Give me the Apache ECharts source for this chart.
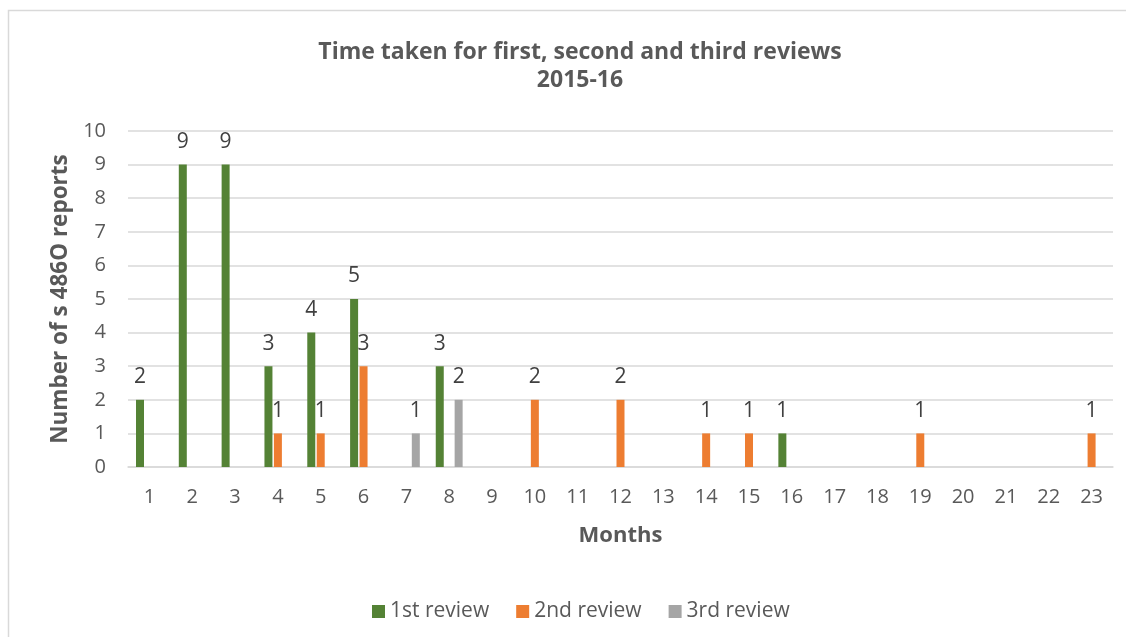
<!DOCTYPE html>
<html>
<head>
<meta charset="utf-8">
<script src="https://cdn.jsdelivr.net/npm/echarts@6/dist/echarts.min.js"></script>
<style>
  html, body { margin: 0; padding: 0; background: #fff; }
  #chart { width: 1126px; height: 637px; }
</style>
</head>
<body>
<div id="chart"></div>
<script>
// months on the x axis
const months = ['1', '2', '3', '4', '5', '6', '7', '8', '9', '10', '11', '12',
  '13', '14', '15', '16', '17', '18', '19', '20', '21', '22', '23']

// number of reports per month, null = no bar
const firstReview = [2, 9, 9, 3, 4, 5, null, 3, null, null, null, null,
  null, null, null, 1, null, null, null, null, null, null, null]
const secondReview = [null, null, null, 1, 1, 3, null, null, null, 2, null, 2,
  null, 1, 1, null, null, null, 1, null, null, null, 1]
const thirdReview = [null, null, null, null, null, null, 1, 2, null, null, null, null,
  null, null, null, null, null, null, null, null, null, null, null]

const font = '"Open Sans", "Noto Sans", sans-serif'

const barSeries = (name, data, color) => ({
  name,
  type: 'bar',
  data,
  barWidth: 8,
  barGap: '18%',
  itemStyle: { color },
  label: {
    show: true,
    position: 'top',
    distance: 12,
    color: '#404040',
    fontFamily: font,
    fontSize: 21
  }
})

const chart = echarts.init(document.getElementById('chart'))
chart.setOption({
  animation: false,
  textStyle: { fontFamily: font },
  title: {
    text: 'Time taken for first, second and third reviews\n2015-16',
    left: 575,
    textAlign: 'center',
    top: 33,
    textStyle: {
      fontSize: 23,
      fontWeight: 'bold',
      color: '#595959',
      lineHeight: 28,
      fontFamily: font
    }
  },
  legend: {
    top: 596,
    left: 367,
    itemWidth: 13,
    itemHeight: 13,
    itemGap: 27,
    icon: 'rect',
    textStyle: { color: '#595959', fontSize: 21, fontFamily: font },
    data: ['1st review', '2nd review', '3rd review']
  },
  grid: { left: 128, right: 13, top: 131, bottom: 170, containLabel: false },
  xAxis: {
    type: 'category',
    data: months,
    name: 'Months',
    nameLocation: 'middle',
    nameGap: 58,
    nameTextStyle: { fontSize: 22, fontWeight: 'bold', color: '#595959', fontFamily: font },
    axisLine: { lineStyle: { color: '#d9d9d9', width: 1.5 } },
    axisTick: { show: false },
    axisLabel: { color: '#595959', fontSize: 20, margin: 20, fontFamily: font }
  },
  yAxis: {
    type: 'value',
    min: 0,
    max: 10,
    interval: 1,
    name: 'Number of s 486O reports',
    nameLocation: 'middle',
    nameGap: 56,
    nameTextStyle: { fontSize: 22.5, fontWeight: 'bold', color: '#595959', fontFamily: font },
    axisLine: { show: false },
    axisTick: { show: false },
    axisLabel: { color: '#595959', fontSize: 20, margin: 22, fontFamily: font },
    splitLine: { lineStyle: { color: '#d9d9d9', width: 1.5 } }
  },
  graphic: [{
    type: 'rect',
    shape: { x: 8.5, y: 10.5, width: 1200, height: 700 },
    style: { fill: 'none', stroke: '#d9d9d9', lineWidth: 1.5 },
    silent: true,
    z: -1
  }],
  series: [
    barSeries('1st review', firstReview, '#548235'),
    barSeries('2nd review', secondReview, '#ED7D31'),
    barSeries('3rd review', thirdReview, '#A5A5A5')
  ]
})
</script>
</body>
</html>
